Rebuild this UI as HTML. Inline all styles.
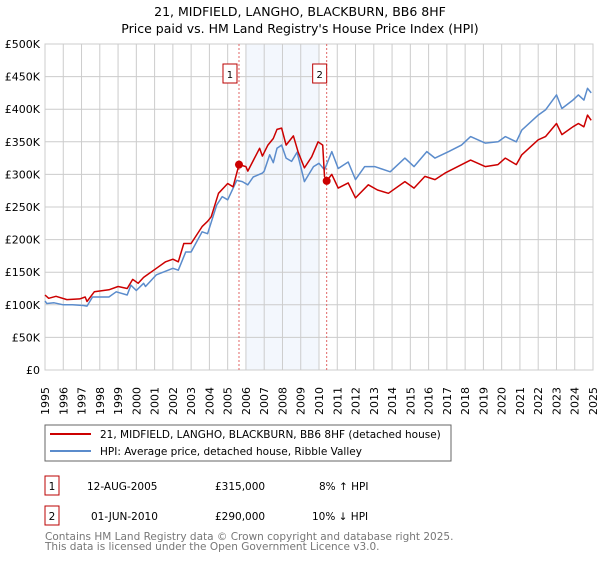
<!DOCTYPE html>
<html><head><meta charset="utf-8"><style>
body{margin:0;background:#fff;font-family:"DejaVu Sans","Liberation Sans",sans-serif;}
svg text{font-family:"DejaVu Sans","Liberation Sans",sans-serif;}
</style></head><body>
<svg id="chart" width="600" height="560" viewBox="0 0 600 560" xmlns="http://www.w3.org/2000/svg">
<text x="300" y="16" text-anchor="middle" font-size="12.5">21, MIDFIELD, LANGHO, BLACKBURN, BB6 8HF</text>
<text x="300" y="33" text-anchor="middle" font-size="12.5">Price paid vs. HM Land Registry's House Price Index (HPI)</text>
<g id="plot"></g>
<rect x="45" y="425" width="406" height="36" fill="#fff" stroke="#666"/>
<line x1="50" y1="434" x2="91" y2="434" stroke="#cc0000" stroke-width="2"/>
<text x="100" y="438" font-size="10.5">21, MIDFIELD, LANGHO, BLACKBURN, BB6 8HF (detached house)</text>
<line x1="50" y1="451" x2="91" y2="451" stroke="#5b8ccc" stroke-width="2"/>
<text x="100" y="455" font-size="10.5">HPI: Average price, detached house, Ribble Valley</text>
<rect x="45" y="476" width="14" height="19" fill="#fff" stroke="#b00"/>
<text x="52" y="490" text-anchor="middle" font-size="10.5">1</text>
<text x="87" y="490" font-size="10.5">12-AUG-2005</text>
<text x="215" y="490" font-size="10.5">£315,000</text>
<text x="319" y="490" font-size="10.5">8% ↑ HPI</text>
<rect x="45" y="506" width="14" height="19" fill="#fff" stroke="#b00"/>
<text x="52" y="520" text-anchor="middle" font-size="10.5">2</text>
<text x="91" y="520" font-size="10.5">01-JUN-2010</text>
<text x="215" y="520" font-size="10.5">£290,000</text>
<text x="312" y="520" font-size="10.5">10% ↓ HPI</text>
<text x="45" y="540" font-size="10.5" fill="#777">Contains HM Land Registry data © Crown copyright and database right 2025.</text>
<text x="45" y="550" font-size="10.5" fill="#777">This data is licensed under the Open Government Licence v3.0.</text>
</svg>
<script>
const yTicks=[0,50,100,150,200,250,300,350,400,450,500];
const yTickLabels=["£0","£50K","£100K","£150K","£200K","£250K","£300K","£350K","£400K","£450K","£500K"];
const years=[1995,1996,1997,1998,1999,2000,2001,2002,2003,2004,2005,2006,2007,2008,2009,2010,2011,2012,2013,2014,2015,2016,2017,2018,2019,2020,2021,2022,2023,2024,2025];
const hpiDates=[1995.0,1995.1,1995.5,1996.0,1996.5,1997.1,1997.3,1997.6,1998.5,1998.9,1999.5,1999.7,2000.0,2000.4,2000.5,2001.1,2002.0,2002.3,2002.7,2003.0,2003.6,2003.9,2004.4,2004.7,2005.0,2005.5,2005.8,2006.1,2006.4,2006.9,2007.0,2007.3,2007.5,2007.7,2007.95,2008.2,2008.5,2008.8,2009.0,2009.2,2009.7,2010.0,2010.3,2010.7,2011.05,2011.6,2012.0,2012.5,2013.05,2013.9,2014.7,2015.2,2015.9,2016.35,2017.1,2017.8,2018.3,2019.1,2019.8,2020.2,2020.8,2021.1,2022.0,2022.4,2023.0,2023.3,2023.9,2024.2,2024.5,2024.7,2024.9];
const hpiValues=[106,102,103,100,100,99,98,112,112,120,115,130,122,133,128,146,156,153,181,181,212,209,253,266,261,291,289,284,296,302,305,330,318,340,345,325,320,334,312,289,312,317,307,335,309,319,292,312,312,304,325,312,335,325,335,345,358,348,350,358,350,368,391,399,422,401,414,422,414,432,425];
const priceDates=[1995.0,1995.2,1995.6,1996.2,1996.9,1997.2,1997.3,1997.7,1998.5,1999.0,1999.5,1999.8,2000.1,2000.4,2000.6,2001.1,2001.6,2002.0,2002.3,2002.6,2003.0,2003.6,2003.9,2004.1,2004.5,2005.0,2005.3,2005.62,2006.0,2006.1,2006.75,2006.9,2007.2,2007.5,2007.7,2007.95,2008.2,2008.6,2008.85,2009.2,2009.6,2009.95,2010.2,2010.3,2010.42,2010.7,2011.05,2011.6,2012.0,2012.7,2013.2,2013.8,2014.7,2015.2,2015.8,2016.35,2016.9,2017.6,2018.3,2019.1,2019.8,2020.2,2020.8,2021.1,2022.0,2022.4,2023.0,2023.3,2023.9,2024.2,2024.5,2024.7,2024.9];
const priceValues=[115,110,113,108,109,112,105,120,123,128,125,139,133,142,146,156,166,170,166,194,194,220,228,235,271,286,281,315,312,305,340,328,345,355,369,371,345,359,335,310,327,350,345,297,290,300,279,287,264,284,276,271,289,279,297,292,302,312,322,312,315,325,315,330,353,358,378,361,373,378,373,391,383];
const saleDates=[2005.62,2010.42];
const saleValues=[315,290];
const saleLabels=["1","2"];

const NS="http://www.w3.org/2000/svg";
const L=45,R=593,T=44,B=370;
const xS=y=>L+(y-1995)/30*(R-L);
const yS=v=>B-v/500*(B-T);
const g=document.getElementById('plot');
function mk(tag,attrs,parent){const e=document.createElementNS(NS,tag);for(const k in attrs)e.setAttribute(k,attrs[k]);(parent||g).appendChild(e);return e;}
let e;
e=mk('rect',{x:xS(2006),y:T,width:xS(2010)-xS(2006),height:B-T,fill:'#eef3fc',opacity:0.7});


yTicks.forEach((v,i)=>{
 e=mk('line',{x1:L,x2:R,y1:yS(v),y2:yS(v),stroke:'#ccc','stroke-width':1});
 
 
 e=mk('text',{x:L-5,y:yS(v)+4,'text-anchor':'end','font-size':11});
 e.textContent=yTickLabels[i];
 
 
});
years.forEach(yr=>{
 e=mk('line',{x1:xS(yr),x2:xS(yr),y1:T,y2:B,stroke:'#ccc','stroke-width':1});
 
 
 const tg=mk('g',{transform:'translate('+(xS(yr)+4).toFixed(1)+','+(B+45)+') rotate(-90)'});
 e=mk('text',{x:0,y:0,'font-size':11},tg);
 e.textContent=String(yr);
 
 
});
e=mk('rect',{x:L,y:T,width:R-L,height:B-T,fill:'none',stroke:'#ccc'});


saleDates.forEach((d,i)=>{
 e=mk('line',{x1:xS(d),x2:xS(d),y1:T,y2:B,stroke:'#e06666','stroke-width':1,'stroke-dasharray':'2,2'});
 
 
});
function path(xs,vs,color,name){
 const d=xs.map((x,i)=>(i?'L':'M')+xS(x).toFixed(1)+','+yS(vs[i]).toFixed(1)).join('');
 e=mk('path',{d:d,fill:'none',stroke:color,'stroke-width':1.5,'stroke-linejoin':'round'});
 
 
}
path(hpiDates,hpiValues,'#5b8ccc','hpi-line');
path(priceDates,priceValues,'#cc0000','price-line');
saleDates.forEach((d,i)=>{
 e=mk('circle',{cx:xS(d),cy:yS(saleValues[i]),r:4,fill:'#cc0000'});
 
 
 const cx=xS(d)-(i===0?9:7);
 e=mk('rect',{x:cx-7,y:64,width:14,height:19,fill:'#fff',stroke:'#b00'});
 
 
 e=mk('text',{x:cx,y:78,'text-anchor':'middle','font-size':10});
 e.textContent=saleLabels[i];
 
 
});
</script>
</body></html>
